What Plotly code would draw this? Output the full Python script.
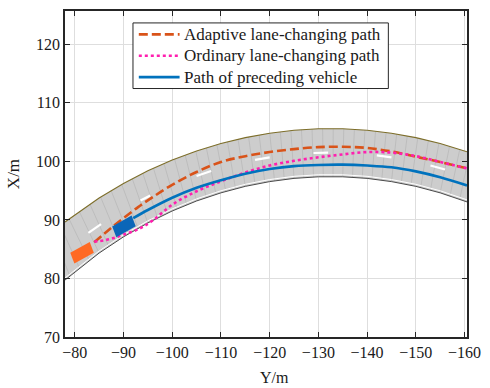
import numpy as np
import plotly.graph_objects as go

# ---- Road geometry (Y in m along the horizontal axis, X in m vertical) ----
road_y = [-78, -85, -90, -95, -100, -105, -110, -115, -120, -125, -130,
          -135, -140, -145, -150, -155, -160.5]
road_upper = [89.65, 93.75, 96.23, 98.39, 100.23, 101.79, 103.06, 104.07,
              104.82, 105.32, 105.57, 105.57, 105.32, 104.82, 104.07, 103.06,
              101.64]
road_lower = [79.73, 84.34, 87.11, 89.49, 91.53, 93.24, 94.63, 95.74, 96.55,
              97.10, 97.37, 97.37, 97.10, 96.55, 95.74, 94.63, 93.08]

# Centre lane marking dashes (start / end of each dash)
dash_y0 = [-82.8, -93.5, -105.0, -117.0, -129.0, -142.0, -153.0]
dash_y1 = [-85.4, -95.5, -108.0, -120.0, -132.0, -145.0, -156.0]
dash_x0 = [87.8, 93.31, 97.52, 100.25, 101.44, 101.03, 99.31]
dash_x1 = [89.3, 94.17, 98.36, 100.69, 101.5, 100.69, 98.61]

# ---- Paths ----
adaptive_y = [-84, -86, -88, -90, -93, -96, -100, -105, -110, -115, -120,
              -125, -130, -135, -140, -145, -150, -155, -160.5]
adaptive_x = [86.2, 87.6, 89.0, 90.3, 92.2, 93.9, 96.0, 98.2, 99.9, 100.9,
              101.6, 102.1, 102.45, 102.5, 102.3, 101.7, 100.8, 99.9, 98.8]

ordinary_y = [-84, -86, -88, -90, -93, -96, -100, -105, -110, -115, -120,
              -125, -130, -135, -140, -145, -150, -155, -160.5]
ordinary_x = [86.3, 86.5, 86.9, 87.5, 88.4, 89.9, 92.6, 94.9, 96.6, 98.1,
              99.3, 100.1, 100.7, 101.2, 101.6, 101.5, 100.9, 99.9, 98.8]

preceding_y = [-92, -95, -100, -105, -110, -115, -120, -125, -130, -135,
               -140, -145, -150, -155, -160.5]
preceding_x = [90.3, 91.7, 93.8, 95.5, 96.8, 97.9, 98.7, 99.2, 99.4, 99.45,
               99.3, 99.0, 98.3, 97.3, 95.9]

path_names = ["Adaptive lane-changing path", "Ordinary lane-changing path",
              "Path of preceding vehicle"]
path_colors = ["#D95319", "#FF1FAF", "#0072BD"]
path_dashes = ["9px,4px", "dot", "solid"]

# ---- Vehicles: centre, heading vector, length, width ----
car_names = ["ego", "preceding"]
car_cy = [-81.5, -90.1]
car_cx = [84.4, 88.9]
car_hy = [-4.0, -3.87]
car_hx = [1.85, 1.82]
car_len = [4.4, 4.4]
car_wid = [2.0, 2.0]
car_colors = ["#FF6A24", "#0B66B8"]

x_ticks = [-80, -90, -100, -110, -120, -130, -140, -150, -160]
x_labels = ["\u221280", "\u221290", "\u2212100", "\u2212110", "\u2212120",
            "\u2212130", "\u2212140", "\u2212150", "\u2212160"]
y_ticks = [70, 80, 90, 100, 110, 120]
y_labels = ["70", "80", "90", "100", "110", "120"]

FONT = "Liberation Serif"
INK = "#1a1a1a"

# plot-area geometry in pixels (used to place the legend box)
W, H = 490, 388
ML, MR, MT, MB = 65, 11, 9, 51
PW, PH = W - ML - MR, H - MT - MB


def px_x(p):
    return (p - ML) / PW


def px_y(p):
    return (H - MB - p) / PH


fig = go.Figure()

# Road surface
ry = np.array(road_y, dtype=float)
ru = np.array(road_upper, dtype=float)
rl = np.array(road_lower, dtype=float)
fig.add_trace(go.Scatter(
    x=np.concatenate([ry, ry[::-1]]), y=np.concatenate([ru, rl[::-1]]),
    fill="toself", fillcolor="#cdcdcd", mode="lines",
    line=dict(width=0), hoverinfo="skip", showlegend=False))

# Transverse texture lines across the road (normal to its centre line)
inc_y = ry[::-1]
up_i, lo_i = ru[::-1], rl[::-1]
mid = (ru + rl) / 2
slope = np.gradient(mid, ry)
slope_i = slope[::-1]
sx, sy = [], []
for s in np.arange(-79.0, -161.0, -2.0):
    lo = np.interp(s, inc_y, lo_i)
    up = np.interp(s, inc_y, up_i)
    k = np.interp(s, inc_y, slope_i)
    t = (up - lo) / (1 + k * k)
    yu = s - k * t
    xu = np.interp(yu, inc_y, up_i)
    sx += [s, yu, None]
    sy += [lo, xu, None]
fig.add_trace(go.Scatter(x=sx, y=sy, mode="lines",
                         line=dict(color="#b6b6b6", width=0.7),
                         hoverinfo="skip", showlegend=False))

# Road edges
fig.add_trace(go.Scatter(x=ry, y=ru, mode="lines",
                         line=dict(color="#7d6e2a", width=1.1),
                         hoverinfo="skip", showlegend=False))
fig.add_trace(go.Scatter(x=ry, y=rl + 0.35, mode="lines",
                         line=dict(color="#ffffff", width=1.0),
                         hoverinfo="skip", showlegend=False))
fig.add_trace(go.Scatter(x=ry, y=rl, mode="lines",
                         line=dict(color="#4a4a4a", width=1.0),
                         hoverinfo="skip", showlegend=False))

# Lane marking dashes
lx, ly = [], []
for a, b, c, d in zip(dash_y0, dash_y1, dash_x0, dash_x1):
    lx += [a, b, None]
    ly += [c, d, None]
fig.add_trace(go.Scatter(x=lx, y=ly, mode="lines",
                         line=dict(color="#ffffff", width=2.2),
                         hoverinfo="skip", showlegend=False))

# Paths
for (py_, px_), name, col, dsh in zip(
        [(adaptive_y, adaptive_x), (ordinary_y, ordinary_x),
         (preceding_y, preceding_x)],
        path_names, path_colors, path_dashes):
    fig.add_trace(go.Scatter(x=py_, y=px_, mode="lines", name=name,
                             line=dict(color=col, width=2.6, dash=dsh,
                                       shape="spline"),
                             showlegend=False))

# Vehicles
for i in range(len(car_names)):
    hv = np.array([car_hy[i], car_hx[i]], dtype=float)
    u = hv / np.linalg.norm(hv)
    n = np.array([-u[1], u[0]])
    c = np.array([car_cy[i], car_cx[i]])
    hl, hw = car_len[i] / 2, car_wid[i] / 2
    pts = [c + hl * u + hw * n, c + hl * u - hw * n,
           c - hl * u - hw * n, c - hl * u + hw * n]
    fig.add_trace(go.Scatter(
        x=[p[0] for p in pts], y=[p[1] for p in pts], fill="toself",
        fillcolor=car_colors[i], mode="lines", line=dict(width=0),
        name=car_names[i], hoverinfo="skip", showlegend=False))

# Legend box drawn in paper coordinates
shapes = [dict(type="rect", xref="paper", yref="paper",
               x0=px_x(135), x1=px_x(398), y0=px_y(87), y1=px_y(21),
               line=dict(color="#262626", width=1), fillcolor="white",
               layer="above")]
annotations = []
row_y = [32.5, 54, 75.5]
for name, col, dsh, yy in zip(path_names, path_colors, path_dashes, row_y):
    shapes.append(dict(type="line", xref="paper", yref="paper",
                       x0=px_x(141), x1=px_x(183), y0=px_y(yy), y1=px_y(yy),
                       line=dict(color=col, width=2.6, dash=dsh),
                       layer="above"))
    annotations.append(dict(xref="paper", yref="paper", x=px_x(186),
                            y=px_y(yy), text=name, showarrow=False,
                            xanchor="left", yanchor="middle",
                            font=dict(family=FONT, size=17, color=INK)))

# Horizontal axis title
annotations.append(dict(xref="paper", yref="paper", x=px_x(281),
                        y=px_y(387), text="Y/m", showarrow=False,
                        xanchor="center", yanchor="bottom", borderpad=0,
                        font=dict(family=FONT, size=16, color=INK)))

axis_common = dict(
    showline=True, linecolor="#262626", linewidth=1.5, mirror="ticks",
    ticks="inside", ticklen=5, tickwidth=1, tickcolor="#262626",
    showgrid=True, gridcolor="#dedede", gridwidth=1, zeroline=False,
    tickfont=dict(family=FONT, size=16, color=INK),
    title_font=dict(family=FONT, size=17, color=INK),
    ticklabeloverflow="allow",
)

fig.update_layout(
    width=W, height=H,
    margin=dict(l=ML, r=MR, t=MT, b=MB),
    paper_bgcolor="white", plot_bgcolor="white",
    font=dict(family=FONT, color=INK),
    xaxis=dict(range=[-78, -160.5], tickvals=x_ticks, ticktext=x_labels,
               **axis_common),
    yaxis=dict(range=[70, 125.7], tickvals=y_ticks, ticktext=y_labels,
               title=dict(text="X/m", standoff=12), **axis_common),
    shapes=shapes,
    annotations=annotations,
    showlegend=False,
)

fig.write_html("out.html")
